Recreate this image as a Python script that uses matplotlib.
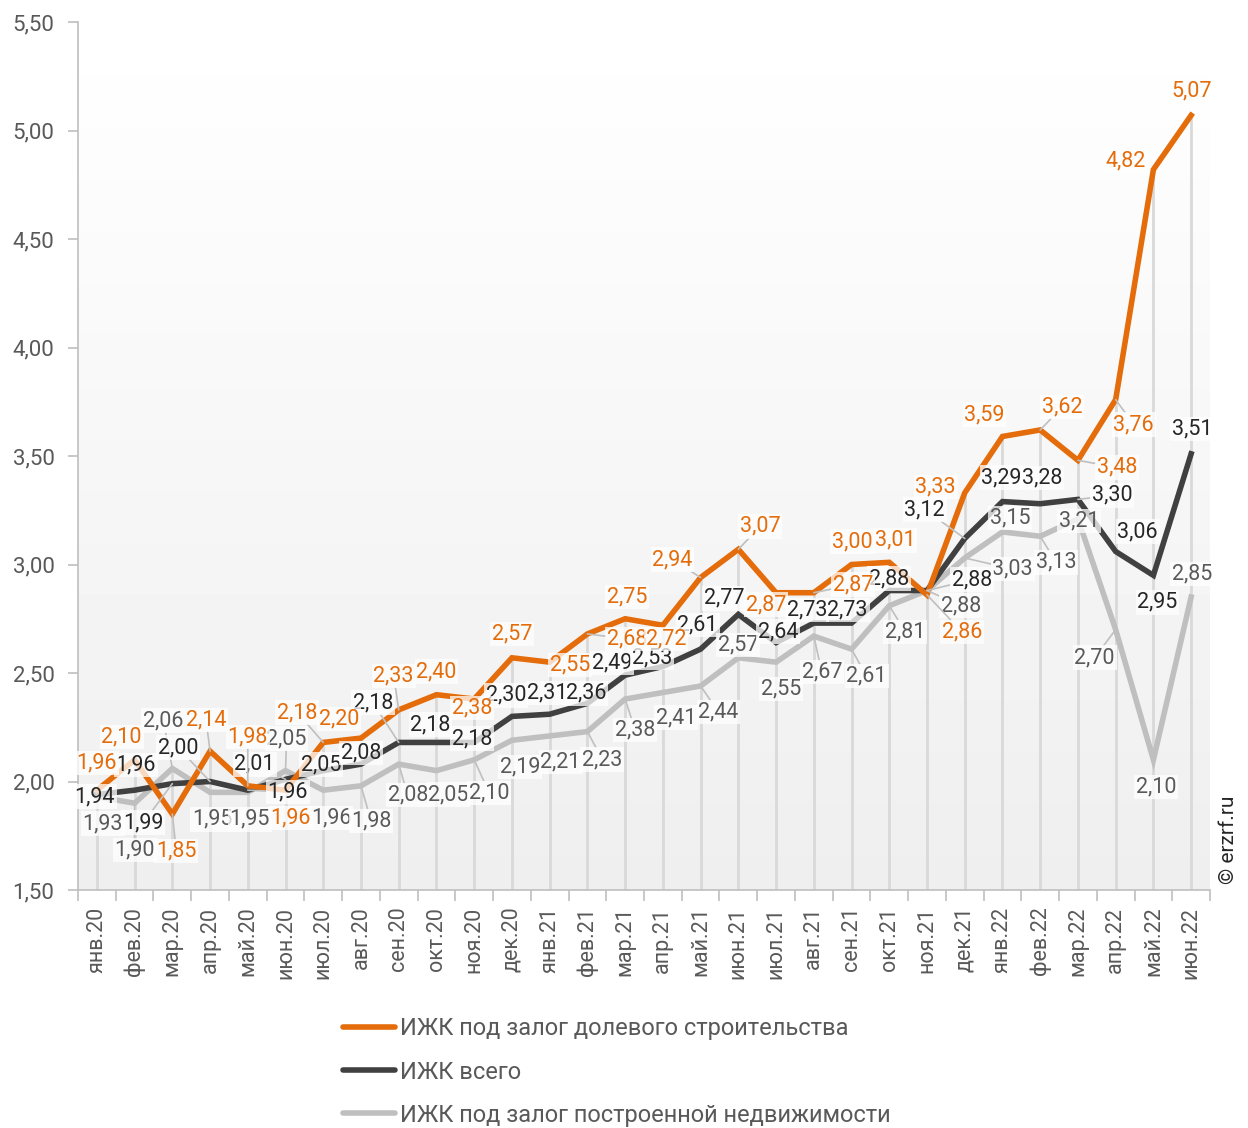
import numpy as np
import matplotlib as mpl
import matplotlib.pyplot as plt

mpl.rcParams['font.family'] = ['Roboto', 'DejaVu Sans']

months = ['янв.20', 'фев.20', 'мар.20', 'апр.20', 'май.20', 'июн.20', 'июл.20', 'авг.20',
          'сен.20', 'окт.20', 'ноя.20', 'дек.20', 'янв.21', 'фев.21', 'мар.21', 'апр.21',
          'май.21', 'июн.21', 'июл.21', 'авг.21', 'сен.21', 'окт.21', 'ноя.21', 'дек.21',
          'янв.22', 'фев.22', 'мар.22', 'апр.22', 'май.22', 'июн.22']

ddu = [1.96, 2.10, 1.85, 2.14, 1.98, 1.96, 2.18, 2.20, 2.33, 2.40, 2.38, 2.57, 2.55, 2.68, 2.75,
       2.72, 2.94, 3.07, 2.87, 2.87, 3.00, 3.01, 2.86, 3.33, 3.59, 3.62, 3.48, 3.76, 4.82, 5.07]
total = [1.94, 1.96, 1.99, 2.00, 1.96, 2.01, 2.05, 2.08, 2.18, 2.18, 2.18, 2.30, 2.31, 2.36, 2.49,
         2.53, 2.61, 2.77, 2.64, 2.73, 2.73, 2.88, 2.88, 3.12, 3.29, 3.28, 3.30, 3.06, 2.95, 3.51]
built = [1.93, 1.90, 2.06, 1.95, 1.95, 2.05, 1.96, 1.98, 2.08, 2.05, 2.10, 2.19, 2.21, 2.23, 2.38,
         2.41, 2.44, 2.57, 2.55, 2.67, 2.61, 2.81, 2.88, 3.03, 3.15, 3.13, 3.21, 2.70, 2.10, 2.85]

names = ['ИЖК под залог долевого строительства', 'ИЖК всего',
         'ИЖК под залог построенной недвижимости']

# label offsets in pixels (dx right, dy down)
off_ddu = [(0, -27), (-13, -23), (4, 37), (-4, -31), (0, -49), (5, 28), (-26, -30), (-22, -19),
           (-5, -34), (0, -23), (-2, 9), (0, -24), (20, 3), (40, 5), (2, -22), (3, 14),
           (-28, -18), (22, -23), (-10, 12), (39, -8), (1, -23), (6, -22), (35, 37), (-29, -6),
           (-18, -22), (22, -23), (39, 7), (18, 25), (-28, -9), (1, -24)]
off_total = [(-2, 2), (1, -25), (-29, 39), (-32, -34), (40, 2), (-31, -15), (-2, -6), (0, -11),
             (-26, -40), (-6, -18), (-2, -4), (-6, -21), (-2, -21), (-1, -10), (-13, -12),
             (-11, -9), (-3, -24), (-14, -16), (2, -11), (-7, -13), (-4, -13), (0, -12),
             (45, -11), (-40, -29), (-1, -24), (2, -26), (34, -4), (22, -20), (4, 27), (1, -25)]
off_built = [(6, 27), (0, 47), (-9, -48), (2, 27), (2, 27), (1, -32), (8, 28), (10, 35),
             (9, 31), (12, 24), (15, 33), (8, 27), (11, 26), (15, 28), (10, 31), (13, 25),
             (18, 26), (0, -13), (5, 27), (8, 36), (15, 27), (16, 26), (34, 15), (48, 11),
             (8, -14), (16, 26), (1, 2), (-21, 28), (3, 27), (1, -23)]

colors = ['#E46C0A', '#404040', '#BFBFBF']
label_colors = ['#E46C0A', '#262626', '#595959']

fig = plt.figure(figsize=(12.48, 11.28), dpi=100)
ax = fig.add_axes([78 / 1248, 1 - 890 / 1128, (1210 - 78) / 1248, (890 - 22) / 1128])

x = np.arange(len(months))
ax.set_xlim(-0.5, len(months) - 0.5)
ax.set_ylim(1.5, 5.5)

# gradient background
grad = np.linspace(0.935, 1.0, 256).reshape(-1, 1)
ax.imshow(grad, extent=[-0.5, len(months) - 0.5, 1.5, 5.5], origin='lower', aspect='auto',
          cmap='gray', vmin=0, vmax=1, zorder=0)

# drop lines
tops = np.max([ddu, total, built], axis=0)
ax.vlines(x, 1.5, tops, color='#d9d9d9', lw=2, zorder=1)

series = [built, total, ddu]
offsets = [off_built, off_total, off_ddu]
order = [2, 1, 0]
for k in order:
    ax.plot(x, series[2 - k], color=colors[k], lw=4, solid_joinstyle='miter', zorder=3 + (2 - k))

for k in order:
    vals = series[2 - k]
    offs = offsets[2 - k]
    for i, v in enumerate(vals):
        dx, dy = offs[i]
        arrow = None
        if np.hypot(dx, dy) > 30:
            arrow = dict(arrowstyle='-', color='#bfbfbf', lw=1.2, shrinkA=0, shrinkB=0)
        ax.annotate(f'{v:.2f}'.replace('.', ','), (i, v), xytext=(dx, -dy),
                    textcoords='offset pixels', ha='center', va='center',
                    fontsize=15.5, color=label_colors[k], zorder=10,
                    bbox=dict(boxstyle='square,pad=0.08', fc='white', ec='none', alpha=0.75),
                    arrowprops=arrow)

# axes styling
for s in ['top', 'right']:
    ax.spines[s].set_visible(False)
ax.spines['left'].set_color('#bfbfbf')
ax.spines['bottom'].set_color('#bfbfbf')
ax.spines['left'].set_linewidth(1.2)
ax.spines['bottom'].set_linewidth(1.2)

yt = np.arange(1.5, 5.51, 0.5)
ax.set_yticks(yt)
ax.set_yticklabels([f'{t:.2f}'.replace('.', ',') for t in yt], fontsize=16, color='#595959')
ax.tick_params(axis='y', length=7, color='#bfbfbf', width=1.2, pad=10)

ax.set_xticks(x)
ax.set_xticklabels(months, rotation=90, fontsize=15.5, color='#595959')
ax.tick_params(axis='x', length=0, pad=12)
ax.set_xticks(np.arange(-0.5, len(months)), minor=True)
ax.tick_params(axis='x', which='minor', length=8, color='#bfbfbf', width=1.2)

handles = [mpl.lines.Line2D([], [], color=c, lw=4, solid_capstyle='round') for c in colors]
fig.legend(handles, names, loc='upper left', bbox_to_anchor=(334 / 1248, 1 - 1008 / 1128),
           frameon=False, fontsize=17, labelcolor='#595959', handlelength=2.2,
           handletextpad=0.2, labelspacing=0.85, borderaxespad=0)

fig.text(1228 / 1248, 1 - 840 / 1128, '© erzrf.ru', rotation=90, ha='center', va='center',
         fontsize=15, color='#262626')

fig.savefig('out.png', dpi=100)
